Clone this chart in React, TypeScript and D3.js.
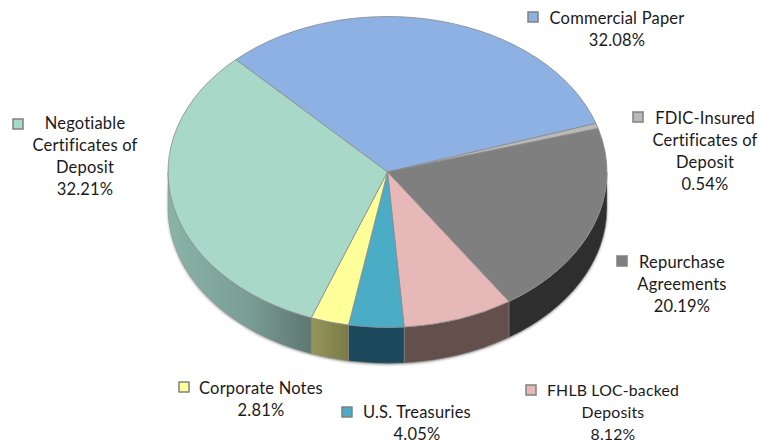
import React from 'react';
import * as d3 from 'd3';

const categories = ['Commercial Paper', 'FDIC-Insured Certificates of Deposit', 'Repurchase Agreements', 'FHLB LOC-backed Deposits', 'U.S. Treasuries', 'Corporate Notes', 'Negotiable Certificates of Deposit'];
const values = [32.08, 0.54, 20.19, 8.12, 4.05, 2.81, 32.21];
const topColors = ['#8db1e2', '#b9b9b9', '#7f7f7f', '#e6b9b8', '#4bacc6', '#ffff99', '#a8d8c8'];
const wallColors = ['#4a6280', '#555555', '#2e2e2e', '#634f4c', '#1c4a5c', 'url(#corpWall)', 'url(#negWall)'];
const labelLines = [['Commercial Paper', '32.08%'], ['FDIC-Insured', 'Certificates of', 'Deposit', '0.54%'], ['Repurchase', 'Agreements', '20.19%'], ['FHLB LOC-backed', 'Deposits', '8.12%'], ['U.S. Treasuries', '4.05%'], ['Corporate Notes', '2.81%'], ['Negotiable', 'Certificates of', 'Deposit', '32.21%']];
const labelCenters = [[617, 18], [705, 118], [682, 262], [613, 389.5], [417, 411.5], [261, 388], [85, 123]];
const swatches = [[533, 17], [638, 117], [622, 261], [531, 390], [347, 412], [184, 387], [18, 124]];

const cx = 387.5, cy = 172, rx = 219.5, ry = 155.5, depth = 36;
const k = ry / rx;
const lineH = 22;
const startDeg = -43.7;

export default function App() {
  const start = (startDeg * Math.PI) / 180;
  const arcs = d3.pie<number>().sort(null).startAngle(start).endAngle(2 * Math.PI + start)(values);
  const arc = d3.arc<d3.PieArcDatum<number>>().innerRadius(0).outerRadius(rx);
  const wall = (a0: number, a1: number) => {
    const s = Math.max(a0, Math.PI / 2), e = Math.min(a1, 3 * Math.PI / 2);
    if (e <= s) return null;
    const p = d3.path();
    const h = depth / k;
    const pt = (a: number, dy: number): [number, number] => [rx * Math.sin(a), -rx * Math.cos(a) + dy];
    p.moveTo(...pt(s, 0));
    p.arc(0, 0, rx, s - Math.PI / 2, e - Math.PI / 2, false);
    p.lineTo(...pt(e, h));
    p.arc(0, h, rx, e - Math.PI / 2, s - Math.PI / 2, true);
    p.closePath();
    return p.toString();
  };
  return (
    <svg width={761} height={443} style={{ position: 'absolute', left: 0, top: 0, background: '#fff' }} fontFamily="Lato, 'Open Sans', sans-serif">
      <defs>
        <linearGradient id="negWall" gradientUnits="userSpaceOnUse" x1={-rx} y1={0} x2={-75} y2={0}>
          <stop offset="0" stopColor="#8ab4a8" />
          <stop offset="0.55" stopColor="#7a9e94" />
          <stop offset="1" stopColor="#5d7670" />
        </linearGradient>
        <linearGradient id="corpWall" gradientUnits="userSpaceOnUse" x1={-75} y1={0} x2={-38} y2={0}>
          <stop offset="0" stopColor="#94945a" />
          <stop offset="1" stopColor="#7a7a48" />
        </linearGradient>
        <filter id="soft" x="-5%" y="-5%" width="110%" height="110%"><feGaussianBlur stdDeviation="0.5" /></filter>
        <filter id="shadow" x="-5%" y="-5%" width="110%" height="115%"><feGaussianBlur stdDeviation="1.5" /></filter>
      </defs>
      <g filter="url(#soft)">
        <g transform={`translate(${cx},${cy}) scale(1,${k})`}>
          <g filter="url(#shadow)" opacity={0.35}>
            <path d={wall(Math.PI / 2, 3 * Math.PI / 2) ?? ''} fill="#000" transform="translate(0,2)" />
          </g>
          {arcs.map((d, i) => {
            const w = wall(d.startAngle, d.endAngle);
            return w ? <path key={i} d={w} fill={wallColors[i]} stroke="#8a8a8a" strokeWidth={0.5} vectorEffect="non-scaling-stroke" /> : null;
          })}
          {arcs.map((d, i) => (
            <path key={i} d={arc(d) ?? ''} fill={topColors[i]} stroke="#8a8a8a" strokeWidth={0.8} vectorEffect="non-scaling-stroke" />
          ))}
        </g>
      </g>
      {categories.map((c, i) => (
        <g key={c}>
          <rect x={swatches[i][0] - 5} y={swatches[i][1] - 5} width={10} height={10} fill={topColors[i]} stroke="#808080" strokeWidth={1.5} />
          <text x={labelCenters[i][0]} y={labelCenters[i][1]} textAnchor="middle" fontSize={i === 3 ? 15.8 : 16.5} letterSpacing={0.2} fill="#1a1a1a">
            {labelLines[i].map((t, j) => <tspan key={j} x={labelCenters[i][0]} dy={j === 0 ? 6 : lineH}>{t}</tspan>)}
          </text>
        </g>
      ))}
    </svg>
  );
}
